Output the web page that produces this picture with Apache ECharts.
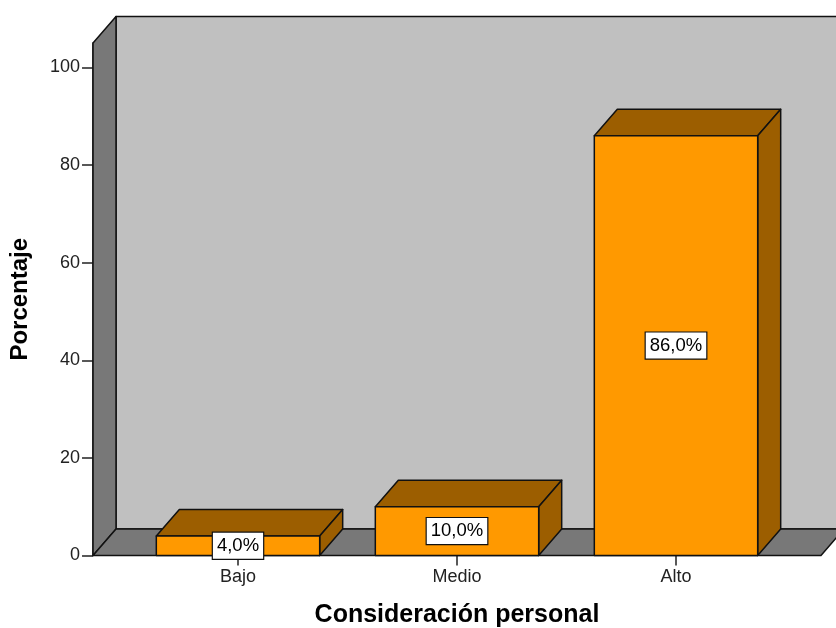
<!DOCTYPE html>
<html>
<head>
<meta charset="utf-8">
<script src="https://cdn.jsdelivr.net/npm/echarts@6/dist/echarts.min.js"></script>
<style>
  html, body { margin: 0; padding: 0; background: #ffffff; }
  #chart { width: 836px; height: 628px; }
</style>
</head>
<body>
<div id="chart"></div>
<script>
// Categories and percentages of "Consideración personal"
const categories = ['Bajo', 'Medio', 'Alto'];
const percentages = [4.0, 10.0, 86.0];
const yTicks = [0, 20, 40, 60, 80, 100];

// 3D look: depth offset of the box faces
const DX = 23, DY = 26.5;
const EXT_FRAC = 0.162;        // floor/wall extension beyond category band, as share of band
const BAR_HALF = 0.373;        // bar half-width as share of band
const FONT = '"Liberation Sans", Arial, sans-serif';

const OUTLINE = { stroke: '#111', lineWidth: 1.5, lineJoin: 'round' };

function renderFrame(params, api) {
  const cs = params.coordSys;
  const band = cs.width / categories.length;
  const ext = band * EXT_FRAC;
  const L = cs.x - ext, R = cs.x + cs.width + ext;
  const T = cs.y, B = cs.y + cs.height;
  return {
    type: 'group',
    children: [
      { type: 'polygon', shape: { points: [[L + DX, T - DY], [R + DX + 40, T - DY], [R + DX + 40, B - DY], [L + DX, B - DY]] },
        style: Object.assign({ fill: '#c0c0c0' }, OUTLINE) },
      { type: 'polygon', shape: { points: [[L, T], [L + DX, T - DY], [L + DX, B - DY], [L, B]] },
        style: Object.assign({ fill: '#787878' }, OUTLINE) },
      { type: 'polygon', shape: { points: [[L, B], [L + DX, B - DY], [R + DX, B - DY], [R, B]] },
        style: Object.assign({ fill: '#787878' }, OUTLINE) }
    ]
  };
}

function renderBar(params, api) {
  const i = api.value(0), v = api.value(1);
  const top = api.coord([i, v]);
  const base = api.coord([i, 0]);
  const band = api.size([1, 0])[0];
  const hw = band * BAR_HALF;
  const x0 = top[0] - hw, x1 = top[0] + hw;
  const y0 = top[1], y1 = base[1];
  const label = v.toFixed(1).replace('.', ',') + '%';
  return {
    type: 'group',
    children: [
      { type: 'polygon', shape: { points: [[x0, y0], [x0 + DX, y0 - DY], [x1 + DX, y0 - DY], [x1, y0]] },
        style: Object.assign({ fill: '#9c5e00' }, OUTLINE) },
      { type: 'polygon', shape: { points: [[x1, y0], [x1 + DX, y0 - DY], [x1 + DX, y1 - DY], [x1, y1]] },
        style: Object.assign({ fill: '#9c5e00' }, OUTLINE) },
      { type: 'rect', shape: { x: x0, y: y0, width: x1 - x0, height: y1 - y0 },
        style: Object.assign({ fill: '#ff9900' }, OUTLINE) },
      { type: 'text', z2: 10,
        style: {
          text: label, x: top[0], y: (y0 + y1) / 2,
          align: 'center', verticalAlign: 'middle',
          fill: '#000', font: '18.5px ' + FONT, lineHeight: 20,
          backgroundColor: '#ffffff', borderColor: '#111', borderWidth: 1.2,
          padding: [3, 4]
        } }
    ]
  };
}

const chart = echarts.init(document.getElementById('chart'), null, { renderer: 'canvas' });
const gridLeft = 128.5, gridWidth = 657;
const extPx = (gridWidth / categories.length) * EXT_FRAC;

chart.setOption({
  animation: false,
  backgroundColor: '#ffffff',
  grid: { left: gridLeft, width: gridWidth, top: 43, height: 512.5, containLabel: false, outerBoundsMode: 'none' },
  xAxis: {
    type: 'category',
    data: categories,
    boundaryGap: true,
    axisLine: { show: false },
    axisTick: { show: true, alignWithLabel: true, length: 10, lineStyle: { color: '#222', width: 1.5 } },
    axisLabel: { fontSize: 18, fontFamily: FONT, color: '#222', margin: 13 },
    splitLine: { show: false },
    name: 'Consideración personal',
    nameLocation: 'middle',
    nameGap: 47,
    nameTextStyle: { fontSize: 25, fontWeight: 'bold', fontFamily: FONT, color: '#000' }
  },
  yAxis: {
    type: 'value',
    min: 0,
    max: 105,
    interval: 20,
    offset: extPx,
    axisLine: { show: true, lineStyle: { color: '#111', width: 1.5 } },
    axisTick: { show: true, length: 11, customValues: yTicks, lineStyle: { color: '#222', width: 1.5 } },
    axisLabel: { fontSize: 18, fontFamily: FONT, color: '#222', margin: 13, customValues: yTicks },
    splitLine: { show: false },
    name: 'Porcentaje',
    nameLocation: 'middle',
    nameGap: 61,
    nameTextStyle: { fontSize: 24, fontWeight: 'bold', fontFamily: FONT, color: '#000' }
  },
  series: [
    {
      type: 'custom',
      silent: true,
      z: 1,
      renderItem: renderFrame,
      data: [[0, 0]],
      encode: { x: 0, y: 1 }
    },
    {
      type: 'custom',
      z: 3,
      renderItem: renderBar,
      data: percentages.map((v, i) => [i, v]),
      encode: { x: 0, y: 1 }
    }
  ]
});
</script>
</body>
</html>
